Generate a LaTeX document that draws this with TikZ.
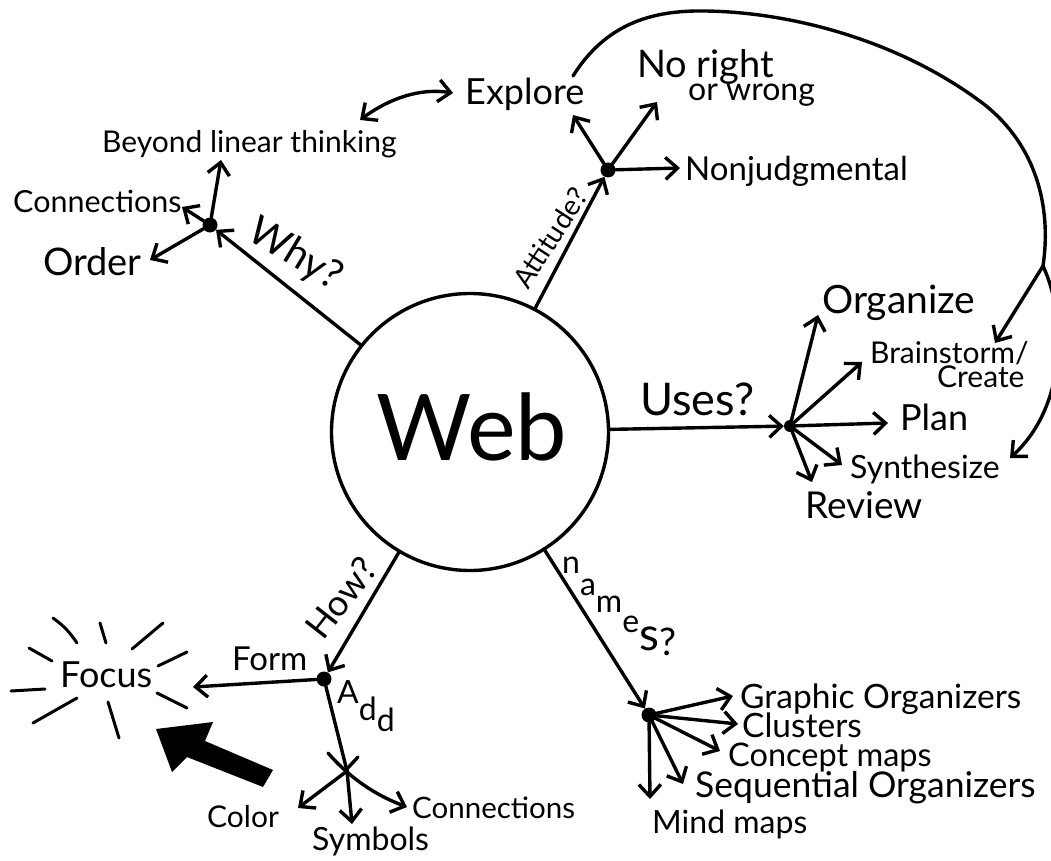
\documentclass[tikz,border=0pt]{standalone}
\usepackage{fontspec}
\setmainfont{Lato}
\usetikzlibrary{arrows.meta}
\newcommand{\fsz}[1]{\fontsize{#1}{#1}\selectfont}
\begin{document}
\begin{tikzpicture}[x=1pt,y=-1pt,
  ln/.style={line width=3.4pt, line cap=round, line join=round},
  ar/.style={ln, -{Straight Barb[length=12pt,width=22pt,line width=3.4pt]}},
  dar/.style={ln, {Straight Barb[length=12pt,width=22pt,line width=3.4pt]}-{Straight Barb[length=12pt,width=22pt,line width=3.4pt]}},
  hubdot/.style={circle, fill=black, inner sep=0pt, minimum size=15pt},
  lbl/.style={inner sep=0pt, anchor=base west, font=\fsz{34}},
  ray/.style={line width=3pt, line cap=round},
]
\useasboundingbox (0,0) rectangle (1051,861);
\fill[white] (0,0) rectangle (1051,861);

% centre
\node[circle, draw, line width=3.4pt, minimum size=277pt, inner sep=0pt] (web) at (470,432) {};
\node[inner sep=0pt, font=\fsz{92}] (webtxt) at (472,427) {Web};

% hubs
\node[hubdot] (why) at (210,225) {};
\node[hubdot] (att) at (608,170) {};
\node[hubdot, minimum size=12pt] (uses) at (790,426) {};
\node[hubdot] (nam) at (649,715) {};
\node[hubdot] (how) at (324,679) {};
\coordinate (cross) at (347,771);

% main connectors
\draw[ar] (web) -- (why);
\draw[ar] (web) -- (att);
\draw[ar] (web) -- (uses);
\draw[ar] (web) -- (nam);
\draw[ar] (web) -- (how);

% branch labels
\node[inner sep=0pt, font=\fsz{40}, rotate=-31] (whyl) at (295,255) {Why?};
\node[inner sep=0pt, font=\fsz{28}, rotate=57] (attl) at (550,238) {Attitude?};
\node[lbl, font=\fsz{45}] (usesl) at (640,415) {Uses?};
\node[lbl, font=\fsz{32}] (naml) at (562,573) {n\raisebox{-22pt}{a}\raisebox{-39pt}{m}\raisebox{-59pt}{e}\raisebox{-77pt}{\fsz{46}s}\raisebox{-82pt}{\fsz{38}?}};
\node[inner sep=0pt, font=\fsz{36}, rotate=52] (howl) at (341,598) {How?};

% Why branch
\node[lbl, font=\fsz{30}] (beyond) at (102,153) {Beyond linear thinking};
\node[lbl, font=\fsz{30.5}] (conn1) at (13,212) {Connections};
\node[lbl, font=\fsz{38}] (order) at (43,275) {Order};
\coordinate (tB) at (221,160);
\coordinate (tC) at (182,207);
\coordinate (tO) at (150,260);
\draw[ar] (why) -- (tB);
\draw[ar] (why) -- (tC);
\draw[ar] (why) -- (tO);

% Explore
\node[lbl, font=\fsz{36}] (explore) at (465,105) {Explore};
\coordinate (eL) at (360,120);
\coordinate (eR) at (453,93);
\draw[dar] (eL) .. controls (390,98) and (420,88) .. (eR);

% Attitude branch
\node[lbl, font=\fsz{38}] (noright) at (637,78) {No right};
\node[lbl, font=\fsz{32}] (orwrong) at (688,101) {or wrong};
\node[lbl, font=\fsz{33}] (nonj) at (685,180) {Nonjudgmental};
\coordinate (tEx) at (573,115);
\coordinate (tNR) at (657,102);
\coordinate (tNJ) at (680,168);
\draw[ar] (att) -- (tEx);
\draw[ar] (att) -- (tNR);
\draw[ar] (att) -- (tNJ);

% Uses branch
\node[lbl, font=\fsz{39}] (organize) at (822,313) {Organize};
\node[lbl, font=\fsz{30}] (brain) at (870,363) {Brainstorm/};
\node[lbl, font=\fsz{30}] (create) at (937,387) {Create};
\node[lbl, font=\fsz{36}] (plan) at (900,430) {Plan};
\node[lbl, font=\fsz{32}] (synth) at (850,478) {Synthesize};
\node[lbl, font=\fsz{37}] (review) at (805,518) {Review};
\coordinate (tOrg) at (818,315);
\coordinate (tBr) at (862,362);
\coordinate (tPl) at (888,423);
\coordinate (tSy) at (842,465);
\coordinate (tRe) at (812,482);
\draw[ar] (uses) -- (tOrg);
\draw[ar] (uses) -- (tBr);
\draw[ar] (uses) -- (tPl);
\draw[ar] (uses) -- (tSy);
\draw[ar] (uses) -- (tRe);

% big loop from Explore to Brainstorm/Create and Synthesize
\coordinate (lS) at (573,76);
\coordinate (lB) at (1043,266);
\coordinate (tBC) at (995,343);
\coordinate (tSyn) at (1010,458);
\draw[ln] (lS) .. controls (605,25) and (650,10) .. (705,11)
  .. controls (790,12) and (900,40) .. (985,105)
  .. controls (1035,145) and (1052,205) .. (lB);
\draw[ar] (lB) -- (tBC);
\draw[ar] (lB) .. controls (1066,315) and (1068,405) .. (tSyn);

% names branch
\node[lbl, font=\fsz{33.5}] (graphic) at (740,708) {Graphic Organizers};
\node[lbl, font=\fsz{33.5}] (clusters) at (742,737) {Clusters};
\node[lbl, font=\fsz{32.5}] (concept) at (728,766) {Concept maps};
\node[lbl, font=\fsz{35.5}] (seq) at (695,797) {Sequential Organizers};
\node[lbl, font=\fsz{32}] (mind) at (652,833) {Mind maps};
\coordinate (tGO) at (733,696);
\coordinate (tCl) at (738,724);
\coordinate (tCM) at (720,751);
\coordinate (tSO) at (683,784);
\coordinate (tMM) at (650,799);
\draw[ar] (nam) -- (tGO);
\draw[ar] (nam) -- (tCl);
\draw[ar] (nam) -- (tCM);
\draw[ar] (nam) -- (tSO);
\draw[ar] (nam) -- (tMM);

% How branch
\node[lbl, font=\fsz{36}] (focus) at (60,687) {Focus};
\node[lbl, font=\fsz{33}] (form) at (232,670) {Form};
\coordinate (tFo) at (193,687);
\draw[ar] (how) -- (tFo);
\node[lbl, font=\fsz{32}] (add) at (337,703) {A\raisebox{-17pt}{d}\raisebox{-28pt}{d}};
\draw[ln] (how) -- (cross);
\coordinate (tSym) at (352,824);
\coordinate (tCol) at (298,808);
\coordinate (cA) at (328,753);
\coordinate (tCon) at (407,807);
\coordinate (tk1) at (345,771);
\coordinate (tk2) at (358,757);
\draw[ar] (cross) -- (tSym);
\draw[ar] (cross) -- (tCol);
\draw[ar] (cA) .. controls (350,778) and (375,795) .. (tCon);
\draw[ln] (tk1) -- (tk2);
\node[lbl, font=\fsz{30}] (color) at (207,827) {Color};
\node[lbl, font=\fsz{32}] (symbols) at (312,850) {Symbols};
\node[lbl, font=\fsz{29.5}] (conn2) at (412,818) {Connections};

% focus rays
\draw[ray] (53,618) to[bend left=10] (77,643);
\draw[ray] (100,623) -- (106,643);
\draw[ray] (132,649) -- (163,623);
\draw[ray] (29,648) -- (52,661);
\draw[ray] (158,666) -- (187,652);
\draw[ray] (11,691) -- (45,689);
\draw[ray] (33,723) -- (77,698);
\draw[ray] (108,702) -- (119,738);
\draw[ray] (157,693) -- (187,708);

% big arrow towards Focus
\fill (156,729) -- (213,722) -- (205,741) -- (273,770) -- (263,787) -- (187,757) -- (172,772) -- cycle;
\end{tikzpicture}
\end{document}
